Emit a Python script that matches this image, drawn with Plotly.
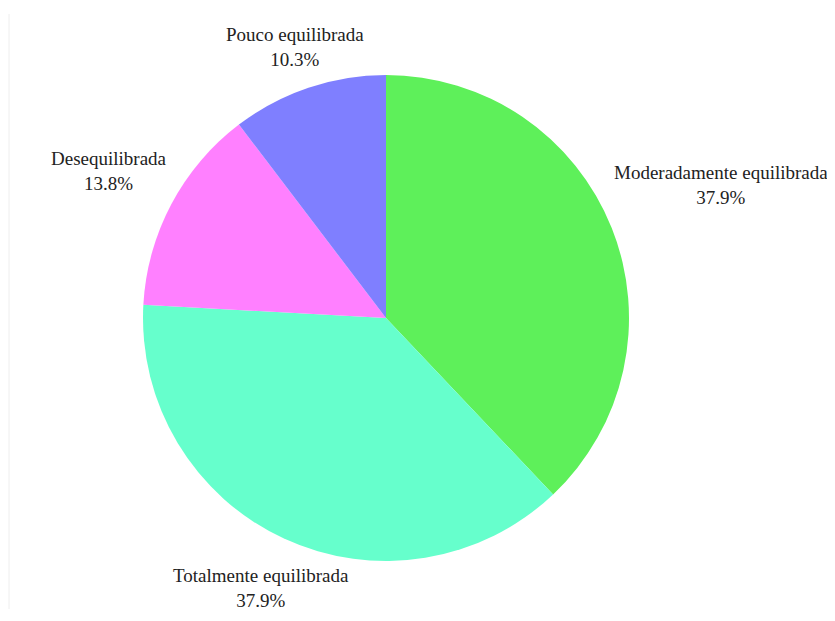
import math
import plotly.graph_objects as go

labels = ["Moderadamente equilibrada", "Totalmente equilibrada", "Desequilibrada", "Pouco equilibrada"]
values = [11, 11, 4, 3]
colors = ["#5ef05a", "#66ffcc", "#ff80ff", "#7f7fff"]
label_dist = [1.482, 1.224, 1.292, 1.179]  # label centre distance, in pie radii

W, H = 835, 621
OFF = 8  # page body margin offset
ML, MR, MT, MB = 143 - OFF, 206 + OFF, 75 - OFF, 60 + OFF

fig = go.Figure(go.Pie(
    labels=labels, values=values, sort=False, direction="clockwise", rotation=0,
    marker=dict(colors=colors, line=dict(width=0)),
    textinfo="none", hoverinfo="label+percent", showlegend=False,
))

total = sum(values)
cum = 0
annotations = []
for lab, v, f in zip(labels, values, label_dist):
    mid = (cum + v / 2) / total * 2 * math.pi
    cum += v
    x = 0.5 + 0.5 * f * math.sin(mid)
    y = 0.5 + 0.5 * f * math.cos(mid)
    annotations.append(dict(
        x=x, y=y, xref="paper", yref="paper", showarrow=False,
        xanchor="center", yanchor="middle", align="center",
        text=f"{lab}<br>{v / total * 100:.1f}%",
        font=dict(family="Liberation Serif, Times New Roman, serif", size=19, color="#222222"),
    ))

pw = W - ML - MR
ph = H - MT - MB
lx = (9 - OFF - ML) / pw
fig.update_layout(
    width=W, height=H,
    margin=dict(l=ML, r=MR, t=MT, b=MB, autoexpand=False),
    paper_bgcolor="white", plot_bgcolor="white",
    annotations=annotations,
    shapes=[dict(type="line", xref="paper", yref="paper",
                 x0=lx, x1=lx,
                 y0=-(MB - 20) / ph, y1=1 + (MT - 6) / ph,
                 line=dict(color="#eeeeee", width=1))],
)

fig.write_html("out.html")
